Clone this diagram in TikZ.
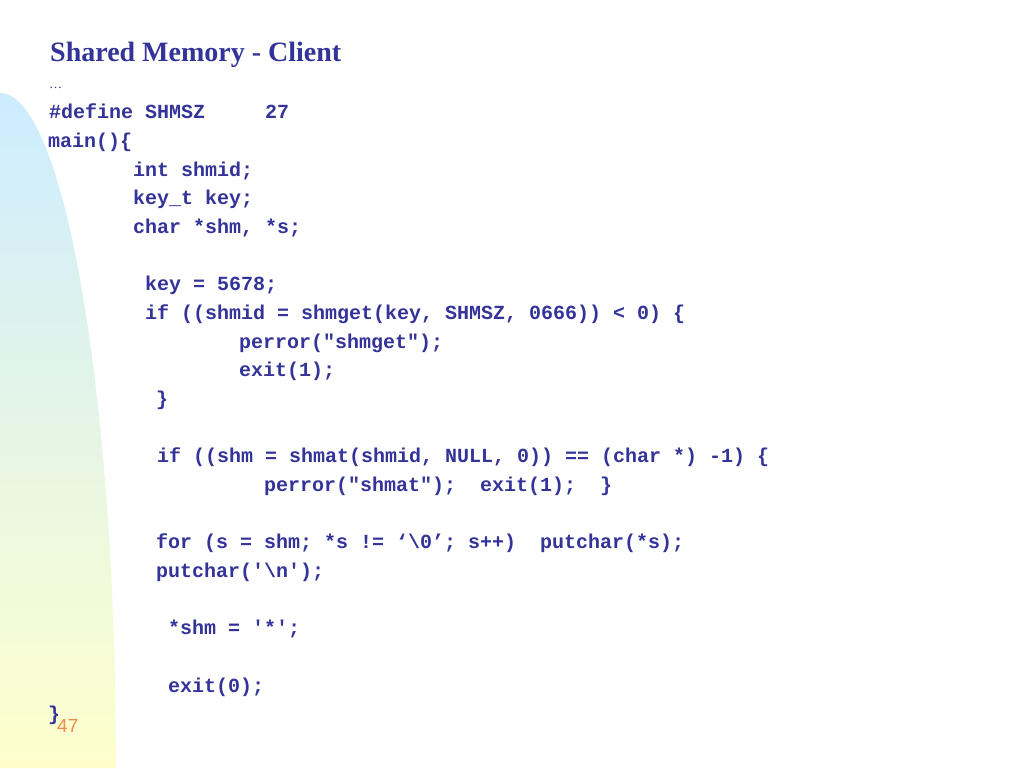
\documentclass[tikz,border=0pt]{standalone}
\usepackage{fontspec}
\setmainfont{Liberation Serif}
\setmonofont{Liberation Mono}
\newfontfamily\pagefont{Liberation Sans}
\definecolor{codeblue}{HTML}{333399}
\definecolor{pageorange}{HTML}{EE8A4A}
\definecolor{bandtop}{HTML}{CCECFF}
\definecolor{bandbottom}{HTML}{FFFFCC}
\begin{document}
\begin{tikzpicture}[x=1pt, y=1pt,
    code/.style={anchor=base west, inner sep=0pt, text=codeblue,
      font=\ttfamily\bfseries\fontsize{20}{24}\selectfont},
    heading/.style={anchor=base west, inner sep=0pt, text=codeblue,
      font=\bfseries\fontsize{28}{34}\selectfont}]
    \useasboundingbox (0,0) rectangle (1024,768);
    \fill[white] (0,0) rectangle (1024,768);
    \shade[top color=bandtop, bottom color=bandbottom]
      (0,0) -- (0,675) arc[start angle=90, end angle=0, x radius=116pt, y radius=675pt] -- cycle;
    \node[heading] (title) at (50,706) {Shared Memory - Client};
    \node[code, font=\fontsize{13}{16}\selectfont] (dots) at (49,679) {…};
    \node[code] (define) at (49,649) {\#define SHMSZ~~~~~27};
    \node[code] (mainfn) at (48,620.4) {main()\{};
    \node[code] (intdecl) at (133,591.7) {int shmid;};
    \node[code] (keydecl) at (133,563) {key\_t key;};
    \node[code] (chardecl) at (133,534.4) {char *shm, *s;};
    \node[code] (keyset) at (145,477.1) {key = 5678;};
    \node[code] (ifget) at (145,448.4) {if ((shmid = shmget(key, SHMSZ, 0666)) < 0) \{};
    \node[code] (perrget) at (239,419.8) {perror("shmget");};
    \node[code] (exitget) at (239,391.1) {exit(1);};
    \node[code] (closeget) at (156,362.5) {\}};
    \node[code] (ifat) at (157,305.2) {if ((shm = shmat(shmid, NULL, 0)) == (char *) -1) \{};
    \node[code] (perrat) at (264,276.5) {perror("shmat");~~exit(1);~~\}};
    \node[code] (forloop) at (156,219.2) {for (s = shm; *s != ‘\textbackslash 0’; s++)~~putchar(*s);};
    \node[code] (putnl) at (156,190.6) {putchar('\textbackslash n');};
    \node[code] (shmstar) at (168,133.3) {*shm = '*';};
    \node[code] (exitzero) at (168,76) {exit(0);};
    \node[code] (closemain) at (48,47.3) {\}};
    \node[anchor=base west, inner sep=0pt, text=pageorange,
      font=\pagefont\fontsize{19}{23}\selectfont] (pagenum) at (57,36) {47};
\end{tikzpicture}
\end{document}
